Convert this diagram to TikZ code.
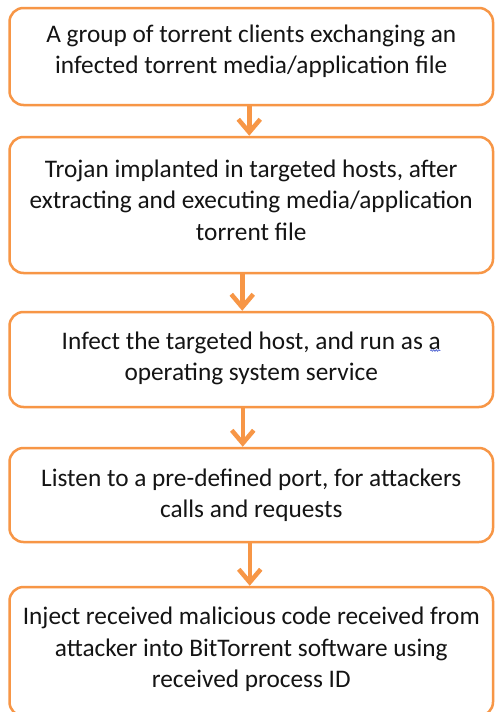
\documentclass[tikz,border=0pt]{standalone}
\usepackage{fontspec}
\setmainfont{Carlito}
\usetikzlibrary{arrows.meta,decorations.pathmorphing}
\definecolor{accent}{HTML}{F79646}
\definecolor{ink}{HTML}{141414}
\definecolor{spell}{HTML}{4F63D2}
\tikzset{
  stepbox/.style={draw=accent, line width=2.5pt, rounded corners=14pt,
    minimum width=483.5pt, inner sep=0pt},
  steptext/.style={inner sep=0pt, text=ink, align=center,
    font=\fontsize{25.3}{31.5}\selectfont},
  flow/.style={draw=accent, line width=4.5pt,
    -{Straight Barb[length=13pt,width=22pt]}},
  squiggle/.style={draw=spell, line width=0.7pt, decorate,
    decoration={snake, segment length=2.6pt, amplitude=0.8pt}}
}
\begin{document}
\begin{tikzpicture}[x=1pt,y=-1pt]
  \fill[white] (0,0) rectangle (496,712);
  \clip (0,0) rectangle (496,712);

  % the five step frames
  \node[stepbox, minimum height=97pt]  (b1) at (251.25,56.5)  {};
  \node[stepbox, minimum height=136pt] (b2) at (251.25,205)   {};
  \node[stepbox, minimum height=95pt]  (b3) at (251.25,359.5) {};
  \node[stepbox, minimum height=94pt]  (b4) at (251.25,495)   {};
  \node[stepbox, minimum height=129pt] (b5) at (251.25,651.5) {};

  % their captions
  \node[steptext] (t1) at ([yshift=5pt]b1.center)
    {A group of torrent clients exchanging an\\infected torrent media/application file};
  \node[steptext] (t2) at ([yshift=5pt]b2.center)
    {Trojan implanted in targeted hosts, after\\extracting and executing media/application\\torrent file};
  \node[steptext] (t3) at ([yshift=1pt]b3.center)
    {Infect the targeted host, and run as a\\operating system service};
  \node[steptext] (t4) at (b4.center)
    {Listen to a pre-defined port, for attackers\\calls and requests};
  \node[steptext] (t5) at ([yshift=2pt]b5.center)
    {Inject received malicious code received from\\attacker into BitTorrent software using\\received process ID};

  % flow between the steps
  \draw[flow] ([xshift=-2pt]b1.south)   -- ([xshift=-2pt]b2.north);
  \draw[flow] ([xshift=-9pt]b2.south)   -- ([xshift=-9pt]b3.north);
  \draw[flow] ([xshift=-8.5pt]b3.south) -- ([xshift=-8.5pt]b4.north);
  \draw[flow] ([xshift=-1.5pt]b4.south) -- ([xshift=-1.5pt]b5.north);

  % spell-check mark under the lone "a"
  \draw[squiggle] ([xshift=179pt,yshift=9pt]b3.center) -- ([xshift=189pt,yshift=9pt]b3.center);
\end{tikzpicture}
\end{document}
